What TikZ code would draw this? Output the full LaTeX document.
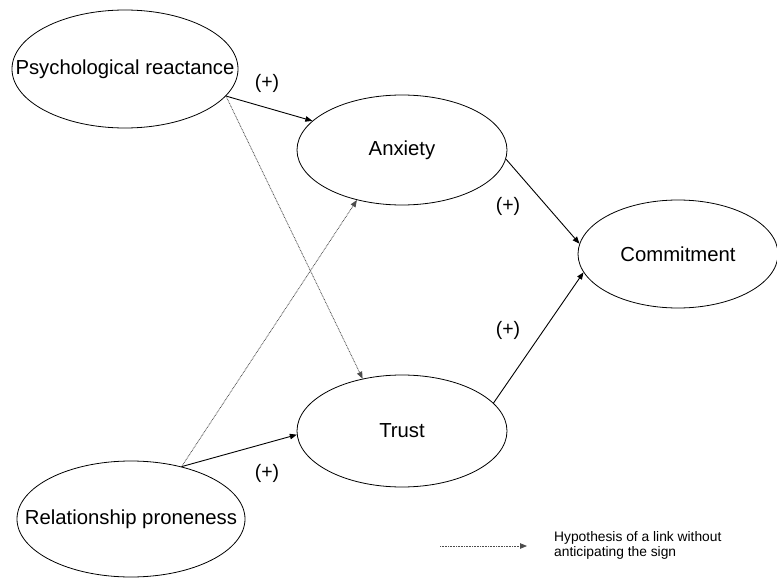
\documentclass[tikz,border=0pt]{standalone}
\usepackage{fontspec}
\setmainfont{Liberation Sans}
\usetikzlibrary{shapes.geometric,arrows.meta}
\newcommand{\zw}[1]{\makebox[0pt]{#1}}
\begin{document}
\begin{tikzpicture}[x=1pt,y=-1pt,
  construct/.style={draw, ellipse, line width=0.8pt, inner sep=0pt, font=\fontsize{20.3}{24}\selectfont},
  sign/.style={font=\fontsize{19.5}{24}\selectfont, inner sep=0pt},
  solidlink/.style={line width=0.9pt, -{Triangle[length=7pt,width=5.5pt]}},
  dotlink/.style={line width=0.8pt, black!70, dash pattern=on 0.8pt off 0.8pt, -{Triangle[length=7pt,width=5.5pt]}}
]
\path[use as bounding box] (0,0) rectangle (777,578);

\node[construct, minimum width=226pt, minimum height=118pt] (psy) at (125,69) {\zw{Psychological reactance}};
\node[construct, minimum width=210pt, minimum height=110pt] (anx) at (402,150) {\zw{Anxiety}};
\node[construct, minimum width=200pt, minimum height=108pt] (com) at (678,254) {\zw{Commitment}};
\node[construct, minimum width=210pt, minimum height=112pt] (tru) at (402,431) {\zw{Trust}};
\node[construct, minimum width=228pt, minimum height=116pt] (rel) at (131,519) {\zw{Relationship proneness}};

\draw[solidlink] (psy.-15) -- (anx.162);
\draw[dotlink] (psy.-15) -- (tru.127);
\draw[dotlink] (rel.46) -- (anx.228);
\draw[solidlink] (rel.46) -- (tru.182);
\draw[solidlink] (anx.-5.5) -- (com.174);
\draw[solidlink] (tru.17.7) -- (com.191);

\node[sign] (s1) at (267,83) {(+)};
\node[sign] (s2) at (508,206) {(+)};
\node[sign] (s3) at (508,330) {(+)};
\node[sign] (s4) at (267,473) {(+)};

\coordinate (la) at (440,546);
\coordinate (lb) at (527,546);
\draw[dotlink] (la) -- (lb);
\node[anchor=west, align=left, inner sep=0pt, font=\fontsize{13.8}{15.6}\selectfont] (legend) at (554,545.5) {Hypothesis of a link without\\anticipating the sign};
\end{tikzpicture}
\end{document}
